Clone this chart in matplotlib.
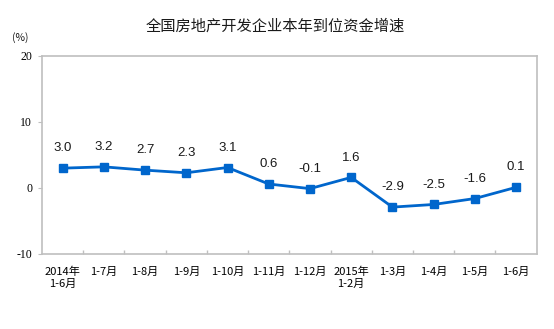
import numpy as np
import matplotlib.pyplot as plt

plt.rcParams['font.family'] = ['Noto Sans CJK SC', 'DejaVu Sans']

# ---------------------------------------------------------------------------
# Data
# ---------------------------------------------------------------------------
categories = ['2014年\n1-6月', '1-7月', '1-8月', '1-9月', '1-10月', '1-11月',
              '1-12月', '2015年\n1-2月', '1-3月', '1-4月', '1-5月', '1-6月']
growth = [3.0, 3.2, 2.7, 2.3, 3.1, 0.6, -0.1, 1.6, -2.9, -2.5, -1.6, 0.1]
y_ticks = [-10, 0, 10, 20]

LINE_BLUE = '#0066CC'
GRID_GRAY = '#BFBFBF'

fig = plt.figure(figsize=(5.54, 3.29), dpi=100)
ax = fig.add_axes([0.0758, 0.228, 0.893, 0.602])

x = np.arange(len(categories))
ax.plot(x, growth, color=LINE_BLUE, linewidth=2.0, marker='s',
        markersize=5.5, markerfacecolor=LINE_BLUE, markeredgecolor=LINE_BLUE)

for xi, v in zip(x, growth):
    ax.annotate(f'{v:.1f}', (xi, v), xytext=(0, 10), textcoords='offset points',
                ha='center', va='bottom', fontsize=9.5,
                family=['Liberation Sans', 'DejaVu Sans'], color='#1A1A1A')

ax.set_xlim(-0.5, len(categories) - 0.5)
ax.set_ylim(-10, 20)
ax.set_yticks(y_ticks)
ax.set_yticklabels([str(t) for t in y_ticks], fontsize=8.5,
                   family=['Liberation Serif', 'DejaVu Serif'])

# category labels at centres, small tick marks between categories
ax.set_xticks(x)
ax.set_xticklabels(categories, fontsize=8, linespacing=1.25)
ax.tick_params(axis='x', which='major', length=0, pad=9)
ax.set_xticks(np.arange(0.5, len(categories) - 1, 1), minor=True)
ax.tick_params(axis='x', which='minor', direction='in', length=3,
               color=GRID_GRAY, width=1)
ax.tick_params(axis='y', direction='out', length=3, color=GRID_GRAY, pad=4)

for s in ax.spines.values():
    s.set_color(GRID_GRAY)
    s.set_linewidth(1.2)

fig.text(0.497, 0.921, '全国房地产开发企业本年到位资金增速', ha='center',
         va='center', fontsize=11, color='#1A1A1A')
fig.text(0.036, 0.887, '(%)', ha='center', va='center', fontsize=7.5,
         color='#1A1A1A')

fig.savefig('out.png', dpi=100)
